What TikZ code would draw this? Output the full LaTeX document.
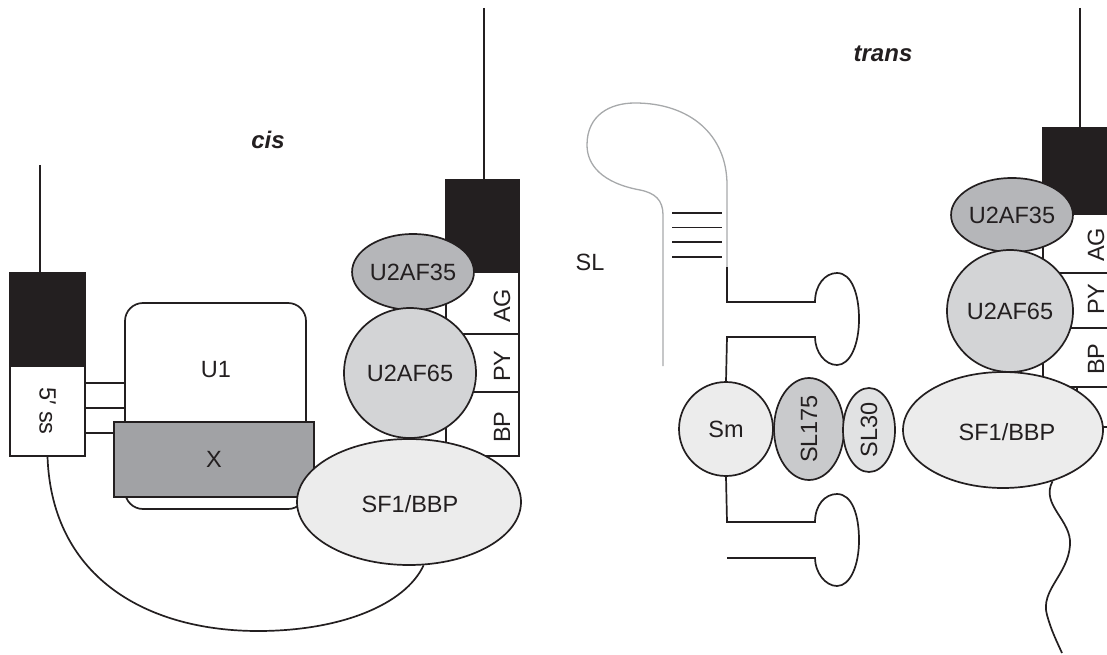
\documentclass[tikz,border=0pt]{standalone}
\usepackage{fontspec}
\setmainfont{Liberation Sans}
\usetikzlibrary{shapes.geometric,calc}
\definecolor{ink}{HTML}{231F20}
\definecolor{xgray}{HTML}{A1A2A5}
\definecolor{g35}{HTML}{B5B6B9}
\definecolor{g65}{HTML}{D3D4D6}
\definecolor{gsf}{HTML}{ECECEC}
\definecolor{g175}{HTML}{C9CACC}
\definecolor{g30}{HTML}{E1E2E3}
\definecolor{slgray}{HTML}{A7A9AB}
\begin{document}
\begin{tikzpicture}[x=1pt,y=-1pt,line width=1.7pt,draw=ink,text=ink,
  font=\fontsize{23.5}{26}\selectfont,
  blk/.style={draw,fill=ink,rectangle,inner sep=0pt},
  wbox/.style={draw,fill=white,rectangle,inner sep=0pt},
  prot/.style={draw,ellipse,inner sep=0pt},
  lab/.style={inner sep=0pt},
  title/.style={inner sep=0pt,font=\fontsize{24}{26}\selectfont\bfseries\itshape}]
\clip (0,0) rectangle (1107,655);
% ---------------- cis ----------------
\node[title] (cis) at (268,140) {cis};
\coordinate (t1) at (40,165);
\node[blk,minimum width=75pt,minimum height=93pt] (b1) at (47.5,319.5) {};
\draw (t1) -- (t1 |- b1.north);
\node[wbox,minimum width=75pt,minimum height=90pt] (ss) at (47.5,411) {};
\node[lab,rotate=-90] (sst) at (ss.center) {5′ ss};
\node[wbox,rounded corners=18pt,minimum width=181pt,minimum height=206pt] (u1) at (215.5,406) {};
\node[lab] (u1t) at (216,370) {U1};
\node[draw,fill=xgray,rectangle,inner sep=0pt,minimum width=200pt,minimum height=75pt] (x) at (214,459.5) {X};
\draw ([yshift=28pt]ss.east) -- ([yshift=28pt]ss.east -| u1.west);
\draw ([yshift=3pt]ss.east) -- ([yshift=3pt]ss.east -| u1.west);
\draw ([yshift=-22pt]ss.east) -- ([yshift=-22pt]ss.east -| x.west);
% right-hand exon of cis
\coordinate (t2) at (484,8);
\node[blk,minimum width=73pt,minimum height=92pt] (b2) at (482.5,226) {};
\draw (t2) -- (t2 |- b2.north);
\node[wbox,minimum width=73pt,minimum height=62pt] (ag1) at (482.5,303) {};
\node[wbox,minimum width=73pt,minimum height=58pt] (py1) at (482.5,363) {};
\node[wbox,minimum width=73pt,minimum height=64pt] (bp1) at (482.5,424) {};
\node[lab,rotate=90] at (502,306) {AG};
\node[lab,rotate=90] at (502,366) {PY};
\node[lab,rotate=90] at (502,427) {BP};
\node[prot,fill=g35,minimum width=94pt,minimum height=76pt] (u35a) at (413,272) {U2AF35};
\node[prot,fill=g65,minimum width=132pt,minimum height=130pt] (u65a) at (410,373) {U2AF65};
\node[prot,fill=gsf,minimum width=224pt,minimum height=126pt] (sf1a) at (409,502) {};
\node[lab] (sf1at) at (410,504) {SF1/BBP};
\draw (ss.south) .. controls (52,580) and (150,631) .. (258,631) .. controls (340,631) and (405,605) .. (sf1a.-77);
% ---------------- trans ----------------
\node[title] (trans) at (883,54) {trans};
\node[lab] (sl) at (590,262) {SL};
\draw[slgray,line width=1.3pt] (663,366) -- (663,215) .. controls (663,200) and (655,193) .. (640,190)
  .. controls (602,183) and (587,165) .. (587,145) .. controls (587,115) and (610,103) .. (635,103)
  .. controls (690,103) and (727,135) .. (727,185) -- (727,267);
\foreach \yy in {213,227.5,242,257} \draw (672,\yy) -- (722,\yy);
\node[prot,fill=gsf,minimum size=94pt] (sm) at (726,429) {Sm};
\node[prot,fill=g175,minimum width=70pt,minimum height=102pt] (sl175) at (809,429) {};
\node[lab,rotate=90] at (sl175.center) {SL175};
\node[prot,fill=g30,minimum width=52pt,minimum height=84pt] (sl30) at (869,430) {};
\node[lab,rotate=90] at (sl30.center) {SL30};
\draw (727,267) -- (727,302) -- (815,302) .. controls (815,285) and (825,273) .. (837,273)
  .. controls (852,273) and (859,295) .. (859,319) .. controls (859,345) and (850,365) .. (837,365)
  .. controls (825,365) and (815,352) .. (815,337) -- (727,337) -- (sm.north);
\coordinate (lend) at (727,558);
\draw (sm.south) -- (727,522) -- (815,522) .. controls (815,505) and (825,494) .. (837,494)
  .. controls (852,494) and (859,515) .. (859,540) .. controls (859,566) and (850,586) .. (837,586)
  .. controls (825,586) and (815,572) .. (815,558) -- (lend);
% right-hand exon of trans
\coordinate (t3) at (1080,8);
\node[blk,minimum width=74pt,minimum height=86pt] (b3) at (1080,171) {};
\draw (t3) -- (t3 |- b3.north);
\node[wbox,minimum width=74pt,minimum height=59pt] (ag2) at (1080,243.5) {};
\node[wbox,minimum width=74pt,minimum height=55pt] (py2) at (1080,300.5) {};
\node[wbox,minimum width=74pt,minimum height=59pt] (bp2) at (1080,357.5) {};
\node[wbox,minimum width=74pt,minimum height=40pt] (nx2) at (1114,407) {};
\node[lab,rotate=90] at (1096,245) {AG};
\node[lab,rotate=90] at (1096,299) {PY};
\node[lab,rotate=90] at (1096,359) {BP};
\node[prot,fill=g35,minimum width=90pt,minimum height=74pt] (u35b) at (1012,215) {U2AF35};
\node[prot,fill=g65,minimum width=126pt,minimum height=122pt] (u65b) at (1010,311) {U2AF65};
\node[prot,fill=gsf,minimum width=200pt,minimum height=116pt] (sf1b) at (1003,430) {};
\node[lab] (sf1bt) at (1007,432) {SF1/BBP};
\coordinate (wend) at (1062,653);
\draw (sf1b.-46) .. controls (1040,505) and (1072,520) .. (1070,545)
  .. controls (1068,575) and (1040,590) .. (1047,615) .. controls (1051,630) and (1057,642) .. (wend);
\end{tikzpicture}
\end{document}
